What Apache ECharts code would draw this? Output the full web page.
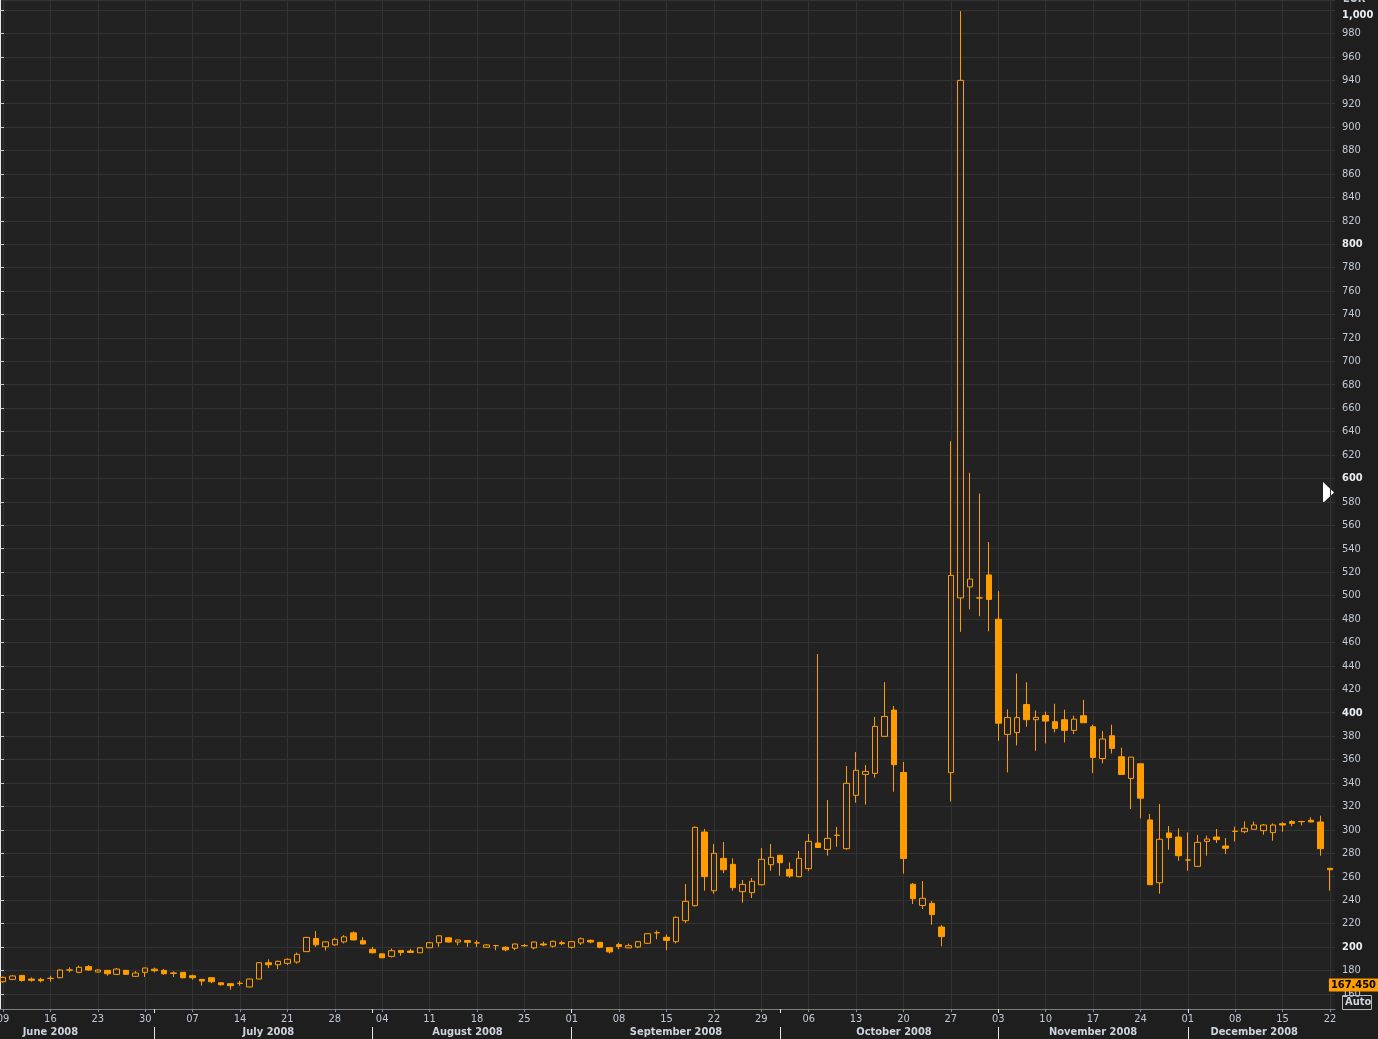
<!DOCTYPE html>
<html><head><meta charset="utf-8">
<script src="https://cdn.jsdelivr.net/npm/echarts@6/dist/echarts.min.js"></script>
<style>html,body{margin:0;padding:0;background:#1e1e1e;overflow:hidden}#c{width:1378px;height:1039px}</style>
</head><body><div id="c"></div>
<script>
// ---- data (trading days, EUR) ----
const dates = [
 '2008-06-09','2008-06-10','2008-06-11','2008-06-12','2008-06-13',
 '2008-06-16','2008-06-17','2008-06-18','2008-06-19','2008-06-20',
 '2008-06-23','2008-06-24','2008-06-25','2008-06-26','2008-06-27',
 '2008-06-30','2008-07-01','2008-07-02','2008-07-03','2008-07-04',
 '2008-07-07','2008-07-08','2008-07-09','2008-07-10','2008-07-11',
 '2008-07-14','2008-07-15','2008-07-16','2008-07-17','2008-07-18',
 '2008-07-21','2008-07-22','2008-07-23','2008-07-24','2008-07-25',
 '2008-07-28','2008-07-29','2008-07-30','2008-07-31','2008-08-01',
 '2008-08-04','2008-08-05','2008-08-06','2008-08-07','2008-08-08',
 '2008-08-11','2008-08-12','2008-08-13','2008-08-14','2008-08-15',
 '2008-08-18','2008-08-19','2008-08-20','2008-08-21','2008-08-22',
 '2008-08-25','2008-08-26','2008-08-27','2008-08-28','2008-08-29',
 '2008-09-01','2008-09-02','2008-09-03','2008-09-04','2008-09-05',
 '2008-09-08','2008-09-09','2008-09-10','2008-09-11','2008-09-12',
 '2008-09-15','2008-09-16','2008-09-17','2008-09-18','2008-09-19',
 '2008-09-22','2008-09-23','2008-09-24','2008-09-25','2008-09-26',
 '2008-09-29','2008-09-30','2008-10-01','2008-10-02','2008-10-03',
 '2008-10-06','2008-10-07','2008-10-08','2008-10-09','2008-10-10',
 '2008-10-13','2008-10-14','2008-10-15','2008-10-16','2008-10-17',
 '2008-10-20','2008-10-21','2008-10-22','2008-10-23','2008-10-24',
 '2008-10-27','2008-10-28','2008-10-29','2008-10-30','2008-10-31',
 '2008-11-03','2008-11-04','2008-11-05','2008-11-06','2008-11-07',
 '2008-11-10','2008-11-11','2008-11-12','2008-11-13','2008-11-14',
 '2008-11-17','2008-11-18','2008-11-19','2008-11-20','2008-11-21',
 '2008-11-24','2008-11-25','2008-11-26','2008-11-27','2008-11-28',
 '2008-12-01','2008-12-02','2008-12-03','2008-12-04','2008-12-05',
 '2008-12-08','2008-12-09','2008-12-10','2008-12-11','2008-12-12',
 '2008-12-15','2008-12-16','2008-12-17','2008-12-18','2008-12-19',
 '2008-12-22'
];
const opens = [
 170.3,172.3,175.7,172.6,172.3, 173.1,173.7,180.2,178.3,183.2,
 178.6,180.0,176.6,180.0,174.9, 178.3,181.0,180.0,177.8,178.3,
 175.4,172.3,173.7,169.4,168.6, 168.8,165.8,172.6,186.5,184.8,
 186.0,187.1,196.0,207.2,200.1, 201.8,204.3,212.0,205.3,197.9,
 194.1,191.9,197.0,196.5,195.0, 199.3,203.6,207.8,204.2,205.4,
 203.3,199.7,201.1,199.7,198.9, 201.0,199.2,202.5,200.6,203.6,
 199.7,203.4,205.6,203.9,199.4, 202.0,199.2,200.0,203.1,212.0,
 208.2,204.5,222.4,235.2,298.1, 248.0,275.6,270.5,247.2,246.3,
 253.1,270.2,278.2,266.2,260.0, 266.8,288.7,283.3,295.2,283.9,
 329.4,347.3,348.2,379.8,402.2, 349.0,253.5,235.4,237.2,217.0,
 348.8,498.0,507.4,497.9,517.6, 479.8,381.5,383.0,407.0,394.0,
 397.6,392.3,394.0,384.9,397.4, 388.0,360.9,380.3,362.4,343.9,
 356.4,308.4,254.8,297.3,293.8, 274.1,268.8,290.1,293.8,286.2,
 298.6,298.4,300.4,299.3,297.6, 305.2,307.0,306.9,308.1,306.7,
 267.1
];
const closes = [
 174.0,175.2,171.4,171.5,171.2, 173.2,180.3,180.4,182.6,180.3,
 180.3,177.1,181.1,176.6,177.7, 182.0,179.7,177.1,177.4,173.7,
 173.7,170.9,170.3,167.7,166.9, 169.0,172.6,186.5,184.8,187.7,
 189.4,193.7,208.1,201.8,204.3, 206.4,208.6,206.0,202.5,195.0,
 190.7,196.8,195.3,195.3,199.3, 203.6,209.5,204.2,205.9,204.0,
 203.5,201.7,201.2,197.5,202.5, 201.2,204.2,201.7,204.8,202.8,
 204.5,207.0,204.2,199.7,195.8, 200.3,201.1,204.5,211.3,212.2,
 205.6,225.3,238.9,302.1,260.0, 279.9,265.9,250.6,253.4,256.0,
 274.8,276.5,271.9,260.5,275.6, 290.1,284.9,292.7,295.4,339.7,
 350.8,349.9,388.3,396.8,355.6, 275.4,241.2,241.5,227.6,208.8,
 517.2,939.9,514.1,498.1,496.7, 391.0,395.8,395.8,394.0,396.0,
 392.8,386.6,384.9,394.5,391.4, 361.8,377.5,369.5,347.3,362.1,
 327.0,253.1,291.9,293.3,277.9, 274.3,289.3,292.1,291.6,284.2,
 298.8,301.3,304.1,304.1,304.1, 304.1,305.5,307.1,306.7,283.9,
 265.9
];
const lows = [
 169.5,171.5,170.3,170.3,169.7, 170.3,173.1,178.3,177.5,179.7,
 178.3,175.4,176.0,176.3,174.3, 174.3,178.3,176.3,174.3,173.1,
 172.0,166.9,169.0,167.1,163.5, 166.9,165.6,172.4,181.9,181.0,
 184.5,185.7,196.0,200.1,197.0, 201.0,203.0,205.5,202.2,194.4,
 190.7,191.0,192.5,195.3,195.0, 199.3,200.0,203.8,201.4,200.0,
 200.0,199.2,197.2,196.3,197.2, 200.0,198.0,200.6,199.4,201.4,
 198.6,201.7,203.1,198.9,194.4, 198.0,199.0,198.9,202.5,206.5,
 197.2,203.0,220.4,234.5,248.0, 245.5,263.0,248.0,237.8,241.8,
 252.5,265.0,260.8,259.0,259.5, 265.0,284.5,277.9,285.6,283.0,
 323.2,321.5,344.5,379.5,332.5, 262.6,236.7,232.4,219.0,200.5,
 324.3,469.0,488.2,482.4,469.5, 376.0,349.0,372.0,388.0,367.5,
 373.8,383.2,374.6,381.7,391.4, 348.4,356.7,365.2,347.3,317.7,
 309.8,253.0,245.4,283.0,273.6, 265.1,268.5,277.9,288.7,279.3,
 290.1,297.0,300.4,295.8,290.7, 298.4,303.0,303.8,306.5,277.9,
 248.0
];
const highs = [
 174.8,176.0,176.0,174.0,173.7, 175.4,181.0,182.6,184.0,184.5,
 181.0,180.3,182.0,180.3,179.4, 182.3,182.3,181.1,179.2,178.5,
 176.3,172.4,174.0,169.6,168.7, 171.0,172.8,187.0,189.4,188.3,
 190.2,195.2,208.6,213.6,204.8, 207.8,210.0,213.2,208.3,200.0,
 194.3,198.6,197.0,198.3,200.0, 204.3,209.8,208.0,206.2,205.6,
 205.6,202.5,201.7,200.6,202.8, 202.5,204.5,204.5,205.3,205.3,
 204.8,208.1,206.4,204.2,199.7, 203.6,202.8,205.0,211.6,214.0,
 210.6,226.0,253.7,302.9,300.7, 287.9,289.6,275.6,257.1,258.8,
 284.4,287.9,278.7,272.2,281.9, 296.4,450.0,325.4,302.4,354.5,
 366.4,355.3,396.3,426.1,405.7, 357.9,254.6,256.3,239.2,218.7,
 631.7,999.0,604.9,587.1,545.7, 503.8,402.8,433.3,426.0,402.0,
 400.8,407.6,402.5,397.4,411.0, 389.7,384.3,389.7,370.1,362.1,
 356.4,313.5,322.0,303.2,301.3, 297.8,295.6,295.0,300.7,293.0,
 302.7,307.2,307.0,305.0,305.5, 306.4,308.1,307.6,310.7,312.1,
 267.1
];
const monthNames = ['January','February','March','April','May','June','July','August','September','October','November','December'];
const monthLabelDates = ['2008-06-16','2008-07-17','2008-08-15','2008-09-16','2008-10-17','2008-11-17','2008-12-10'];
const lastValue = 167.45;
const currency = 'EUR';

// ---- styling ----
const ORANGE = '#ff9c00';
const FONT = '"DejaVu Sans Condensed","DejaVu Sans",sans-serif';
const GRID_C = '#333333';
const TXT = '#c2cad6';

const isMonday = i => new Date(dates[i] + 'T00:00:00Z').getUTCDay() === 1;
const isMonthStart = i => i > 0 && dates[i].slice(5, 7) !== dates[i - 1].slice(5, 7);
const fmtNum = v => v.toLocaleString('en-US');

const chart = echarts.init(document.getElementById('c'));
chart.setOption({
  backgroundColor: '#1e1e1e',
  animation: false,
  grid: [
    {left: 3, right: 48, top: 0, bottom: 30, outerBoundsMode: 'none', containLabel: false},
    {left: 0, right: 43, top: 0, bottom: 30, outerBoundsMode: 'none', containLabel: false,
     show: true, backgroundColor: '#222222', borderWidth: 0}
  ],
  xAxis: [
    {type: 'category', gridIndex: 0, data: dates, boundaryGap: false, position: 'bottom',
     axisLine: {show: false, onZero: false},
     axisTick: {show: true, interval: (i) => isMonday(i), length: 3, lineStyle: {color: '#8a8a8a'}},
     axisLabel: {show: true, interval: (i) => isMonday(i), formatter: v => v.slice(8, 10),
                 color: TXT, fontFamily: FONT, fontSize: 11, margin: 5},
     splitLine: {show: true, interval: (i) => isMonday(i), lineStyle: {color: GRID_C, width: 1}}},
    {type: 'category', gridIndex: 0, data: dates, boundaryGap: false, position: 'bottom',
     axisLine: {show: false, onZero: false},
     axisTick: {show: true, interval: (i) => isMonthStart(i), length: 4, lineStyle: {color: '#e6e6e6'}},
     axisLabel: {show: true, interval: (i, v) => monthLabelDates.includes(v),
                 formatter: v => monthNames[+v.slice(5, 7) - 1] + ' ' + v.slice(0, 4),
                 color: '#cdd4de', fontFamily: FONT, fontSize: 11, fontWeight: 'bold', margin: 18},
     splitLine: {show: false}},
    {type: 'category', gridIndex: 0, data: dates, boundaryGap: false, position: 'bottom', offset: 18,
     axisLine: {show: false, onZero: false},
     axisTick: {show: true, interval: (i) => isMonthStart(i), length: 12, lineStyle: {color: '#e6e6e6'}},
     axisLabel: {show: false}, splitLine: {show: false}},
    {type: 'value', gridIndex: 1, min: 0, max: 1,
     axisLine: {show: true, onZero: false, lineStyle: {color: '#7c7c7c'}},
     axisTick: {show: false}, axisLabel: {show: false}, splitLine: {show: false}}
  ],
  yAxis: [
    {type: 'value', gridIndex: 0, min: 147, max: 1008.5, show: false,
     axisLine: {show: false}, axisTick: {show: false}, axisLabel: {show: false}, splitLine: {show: false}},
    {type: 'value', gridIndex: 1, position: 'right', min: 147, max: 1008.5, minInterval: 20, maxInterval: 20,
     axisLine: {show: true, lineStyle: {color: '#e8e8e8'}},
     axisTick: {show: true, length: 4, lineStyle: {color: '#cfcfcf'}},
     axisLabel: {margin: 7, showMinLabel: false, showMaxLabel: false, color: TXT, fontFamily: FONT, fontSize: 11,
       formatter: v => (v === 1000 ? '{t|' + fmtNum(v) + '}' : v % 200 === 0 ? '{b|' + fmtNum(v) + '}' : fmtNum(v)),
       rich: {b: {fontWeight: 'bold', color: '#e8edf4', fontFamily: FONT, fontSize: 11},
              t: {fontWeight: 'bold', color: '#e8edf4', fontFamily: FONT, fontSize: 11, padding: [11, 0, 0, 0]}}},
     splitLine: {show: true, lineStyle: {color: GRID_C}},
     axisPointer: {show: true, type: 'line', value: lastValue, status: 'show', triggerTooltip: false,
       lineStyle: {opacity: 0},
       label: {show: true, backgroundColor: ORANGE, color: '#000', fontWeight: 'bold', fontFamily: FONT, fontSize: 11,
               margin: 0, padding: [1, 2, 1, 2], borderRadius: 0, shadowBlur: 0,
               formatter: p => Number(p.value).toFixed(3)}}}
  ],
  axisPointer: {triggerOn: 'none'},
  series: [{
    type: 'candlestick', xAxisIndex: 0, yAxisIndex: 0, barWidth: 6, clip: false,
    data: dates.map((d, i) => [opens[i], closes[i], lows[i], highs[i]]),
    itemStyle: {color: 'transparent', color0: ORANGE, borderColor: ORANGE, borderColor0: ORANGE, borderWidth: 1}
  }],
  graphic: [
    {type: 'polygon', shape: {points: [[1323, 482], [1334, 492.5], [1323, 503]]}, style: {fill: '#ffffff'}},
    {type: 'text', x: 1343, y: -6, style: {text: currency, fill: TXT, font: 'bold 11px ' + FONT}},
    {type: 'rect', shape: {x: 1342.5, y: 995.5, width: 29, height: 14}, style: {fill: 'none', stroke: '#b8b8b8', lineWidth: 1}},
    {type: 'text', x: 1345, y: 997, style: {text: 'Auto', fill: '#cdd4de', font: 'bold 11px ' + FONT}},
    {type: 'line', shape: {x1: 1315, y1: 1009.5, x2: 1335, y2: 1009.5}, style: {stroke: '#ffffff', lineWidth: 1}}
  ]
});
</script></body></html>
